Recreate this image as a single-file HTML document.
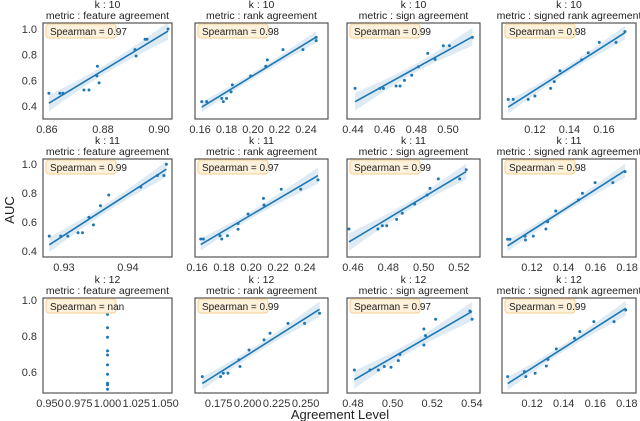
<!DOCTYPE html>
<html><head><meta charset="utf-8"><style>
html,body{margin:0;padding:0;background:#fff;}
svg{display:block;font-family:"Liberation Sans",Arial,sans-serif;}
</style></head><body>
<svg id="chart" width="640" height="421" viewBox="0 0 640 421"></svg>
<script>
const kLabels = ["10","11","12"];
const metricLabels = ["feature agreement","rank agreement","sign agreement","signed rank agreement"];
const spearmanVals = [["0.97","0.98","0.99","0.98"],["0.99","0.97","0.99","0.98"],["nan","0.99","0.97","0.99"]];
const yTicks = [[0.4,0.6,0.8,1.0],[0.4,0.6,0.8,1.0],[0.6,0.8,1.0]];
const yDomains = [[0.299,1.047],[0.359,1.034],[0.483,1.011]];
const xTicks = [
 [[0.86,0.88,0.90],[0.16,0.18,0.20,0.22,0.24],[0.44,0.46,0.48,0.50],[0.12,0.14,0.16]],
 [[0.93,0.94],[0.16,0.18,0.20,0.22,0.24],[0.46,0.48,0.50,0.52],[0.12,0.14,0.16,0.18]],
 [[0.950,0.975,1.000,1.025,1.050],[0.175,0.200,0.225,0.250],[0.48,0.50,0.52,0.54],[0.12,0.14,0.16,0.18]]];
const xTickDigits = [[2,2,2,2],[2,2,2,2],[3,3,2,2]];
const xDomains = [
 [[0.8586,0.9046],[0.1562,0.2566],[0.4362,0.5202],[0.1009,0.1786]],
 [[0.92672,0.94688],[0.1585,0.2570],[0.4566,0.5319],[0.1011,0.1856]],
 [[0.9439,1.0561],[0.1546,0.2693],[0.477,0.5441],[0.1009,0.1858]]];
const xs_r1c1=[0.8607,0.8646,0.8657,0.8732,0.875,0.8778,0.878,0.8786,0.8914,0.8918,0.895,0.8957,0.9032];
const ys_r1c1=[0.50,0.50,0.50,0.525,0.525,0.635,0.71,0.58,0.84,0.79,0.92,0.92,1.0];
const xs_r1c2=[0.1613,0.165,0.1764,0.1776,0.180,0.1834,0.1844,0.1982,0.2096,0.2108,0.2226,0.2377,0.2477,0.2477];
const ys_r1c2=[0.434,0.434,0.46,0.434,0.46,0.51,0.565,0.634,0.71,0.76,0.84,0.84,0.935,0.91];
const xs_r1c3=[0.4413,0.457,0.4592,0.4672,0.4697,0.4725,0.4771,0.4813,0.4872,0.4918,0.497,0.5009,0.5154];
const ys_r1c3=[0.538,0.538,0.538,0.556,0.556,0.60,0.64,0.706,0.81,0.764,0.87,0.87,0.935];
const xs_r1c4=[0.1045,0.1074,0.1161,0.12,0.1291,0.1312,0.1345,0.1471,0.1509,0.1573,0.167,0.1722];
const ys_r1c4=[0.452,0.452,0.452,0.478,0.538,0.59,0.675,0.76,0.815,0.896,0.896,0.98];
const xs_r2c1=[0.9277,0.9295,0.9306,0.9322,0.9329,0.9339,0.9346,0.9357,0.937,0.942,0.9446,0.9456,0.946];
const ys_r2c1=[0.503,0.503,0.503,0.526,0.526,0.632,0.58,0.712,0.786,0.84,0.92,0.92,0.998];
const xs_r2c2=[0.1627,0.1647,0.177,0.1783,0.1825,0.1904,0.1904,0.1978,0.2092,0.2096,0.2224,0.2368,0.2496];
const ys_r2c2=[0.483,0.483,0.505,0.483,0.505,0.55,0.59,0.655,0.763,0.717,0.826,0.826,0.89];
const xs_r2c3=[0.4577,0.4741,0.4766,0.4791,0.4847,0.4879,0.4949,0.502,0.5036,0.5083,0.5204,0.5241];
const ys_r2c3=[0.552,0.552,0.574,0.574,0.618,0.66,0.724,0.786,0.832,0.897,0.897,0.96];
const xs_r2c4=[0.1046,0.1061,0.1156,0.1159,0.1208,0.1288,0.1299,0.135,0.1493,0.1518,0.1598,0.171,0.1787];
const ys_r2c4=[0.481,0.481,0.503,0.476,0.503,0.552,0.602,0.676,0.752,0.798,0.871,0.871,0.947];
const xs_r3c1=[1.0,1.0,1.0,1.0,1.0,1.0,1.0,1.0,1.0,1.0];
const ys_r3c1=[0.92,0.846,0.793,0.717,0.694,0.639,0.587,0.537,0.528,0.504];
const xs_r3c2=[0.1609,0.1767,0.179,0.183,0.1925,0.1934,0.2012,0.2141,0.2193,0.2348,0.2491,0.262];
const ys_r3c2=[0.574,0.574,0.593,0.593,0.667,0.63,0.722,0.778,0.815,0.87,0.87,0.926];
const xs_r3c3=[0.4807,0.4886,0.4928,0.4958,0.4992,0.5029,0.5037,0.5158,0.5158,0.5166,0.5217,0.539,0.5401];
const ys_r3c3=[0.611,0.611,0.611,0.63,0.626,0.663,0.698,0.75,0.839,0.802,0.893,0.939,0.893];
const xs_r3c4=[0.1045,0.1151,0.116,0.1219,0.129,0.13,0.1353,0.1468,0.1502,0.1591,0.1719,0.1793];
const ys_r3c4=[0.574,0.602,0.574,0.593,0.633,0.67,0.728,0.787,0.824,0.88,0.88,0.944];
const XS=[[xs_r1c1,xs_r1c2,xs_r1c3,xs_r1c4],[xs_r2c1,xs_r2c2,xs_r2c3,xs_r2c4],[xs_r3c1,xs_r3c2,xs_r3c3,xs_r3c4]];
const YS=[[ys_r1c1,ys_r1c2,ys_r1c3,ys_r1c4],[ys_r2c1,ys_r2c2,ys_r2c3,ys_r2c4],[ys_r3c1,ys_r3c2,ys_r3c3,ys_r3c4]];

const NS="http://www.w3.org/2000/svg";
const svg=document.getElementById('chart');
function mk(tag,attrs,parent){const e=document.createElementNS(NS,tag);for(const k in attrs)e.setAttribute(k,attrs[k]);(parent||svg).appendChild(e);return e;}
const colL=[43,195,347,502], colR=[172,328,480,636];
const rowT=[23,159,298], rowB=[119,257,393];
const blue="#1f77b4";
for(let r=0;r<3;r++){for(let c=0;c<4;c++){
 const g=mk('g',{});
 
 
 const L=colL[c],R=colR[c],T=rowT[r],B=rowB[r];
 const xd=xDomains[r][c], yd=yDomains[r];
 const sx=v=>L+(v-xd[0])/(xd[1]-xd[0])*(R-L);
 const sy=v=>B-(v-yd[0])/(yd[1]-yd[0])*(B-T);
 const cx=(L+R)/2;
 const t1=mk('text',{x:cx,y:T-15,'text-anchor':'middle','font-size':'10.5',fill:'#222'},g);t1.textContent='k : '+kLabels[r];
 
 const t2=mk('text',{x:cx,y:T-4,'text-anchor':'middle','font-size':'10.5',fill:'#222'},g);t2.textContent='metric : '+metricLabels[c];
 
 const xv=XS[r][c], yv=YS[r][c], n=xv.length;
 const xm=xv.reduce((a,b)=>a+b,0)/n, ym=yv.reduce((a,b)=>a+b,0)/n;
 let sxx=0,sxy=0;for(let i=0;i<n;i++){sxx+=(xv[i]-xm)**2;sxy+=(xv[i]-xm)*(yv[i]-ym);}
 if(sxx>1e-12){
  const b=sxy/sxx,a=ym-b*xm;let sse=0;for(let i=0;i<n;i++)sse+=(yv[i]-a-b*xv[i])**2;
  const s=Math.sqrt(sse/(n-2));const x0=Math.min(...xv),x1=Math.max(...xv);
  const up=[],lo=[];for(let k=0;k<=40;k++){const x=x0+(x1-x0)*k/40;const se=s*Math.sqrt(1/n+(x-xm)**2/sxx)*2.2;const yh=a+b*x;up.push(sx(x)+','+sy(yh+se));lo.unshift(sx(x)+','+sy(yh-se));}
  const band=mk('polygon',{points:up.concat(lo).join(' '),fill:blue,'fill-opacity':'0.15'},g);
  
  const ln=mk('line',{x1:sx(x0),y1:sy(a+b*x0),x2:sx(x1),y2:sy(a+b*x1),stroke:blue,'stroke-width':'1.6'},g);
  
 }
 for(let i=0;i<n;i++){const p=mk('circle',{cx:sx(xv[i]),cy:sy(yv[i]),r:'1.5',fill:blue},g);
  }
 const fr=mk('rect',{x:L,y:T,width:R-L,height:B-T,fill:'none',stroke:'#555','stroke-width':'1.2'},g);
 
 const sb=mk('rect',{x:L+3,y:T+1,width:70,height:14,rx:3,fill:'#fdf1dc',stroke:'#f5cf8f','stroke-width':'1'},g);
 
 const st=mk('text',{x:L+7,y:T+12,'font-size':'10',fill:'#222'},g);st.textContent='Spearman = '+spearmanVals[r][c];
 
 xTicks[r][c].forEach(v=>{const tt=mk('text',{x:sx(v),y:B+14,'text-anchor':'middle','font-size':'11',fill:'#333'},g);tt.textContent=v.toFixed(xTickDigits[r][c]);
  });
 if(c===0){yTicks[r].forEach(v=>{const tt=mk('text',{x:L-6,y:sy(v)+4,'text-anchor':'end','font-size':'11',fill:'#333'},g);tt.textContent=v.toFixed(1);
  });}
}}
const yl=mk('text',{x:0,y:0,transform:'translate(14,210) rotate(-90)','text-anchor':'middle','font-size':'13',fill:'#222'});yl.textContent='AUC';

const xl=mk('text',{x:340,y:419,'text-anchor':'middle','font-size':'13',fill:'#222'});xl.textContent='Agreement Level';

</script>
</body></html>
